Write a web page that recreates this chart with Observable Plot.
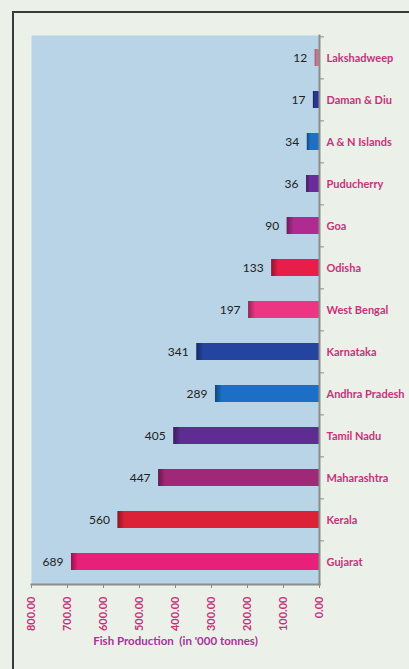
<!DOCTYPE html>
<html>
<head>
<meta charset="utf-8">
<script src="https://cdn.jsdelivr.net/npm/d3@7"></script>
<script src="https://cdn.jsdelivr.net/npm/@observablehq/plot@0.6"></script>
<style>
  html, body { margin:0; padding:0; background:#ebf1e9; width:409px; height:669px; overflow:hidden; }
  #frame { position:absolute; left:12px; top:11px; width:600px; height:900px; border:2px solid #3a3a3a; box-sizing:border-box; }
  #chart { position:absolute; left:0; top:0; }
</style>
</head>
<body>
<div id="frame"></div>
<div id="chart"></div>
<script>
const categories = ["Lakshadweep","Daman & Diu","A & N Islands","Puducherry","Goa","Odisha","West Bengal","Karnataka","Andhra Pradesh","Tamil Nadu","Maharashtra","Kerala","Gujarat"];
const values = [12,17,34,36,90,133,197,341,289,405,447,560,689];
const colors = ["#c9788c","#2a3590","#1f6fc2","#6a2c98","#b02a90","#e61e48","#ee3584","#2444a0","#1c6fc4","#5e2c92","#a02878","#dc2236","#e8207a"];
const xTicks = [0,100,200,300,400,500,600,700,800];
const xLabel = "Fish Production  (in '000 tonnes)";

const data = categories.map((c, i) => ({category: c, value: values[i], color: colors[i]}));

const marginTop = 35, marginBottom = 85, H = 669;
const step = (H - marginTop - marginBottom) / (categories.length - 0.6 + 0.6);

const chart = Plot.plot({
  width: 409, height: H,
  marginLeft: 31, marginRight: 90, marginTop, marginBottom,
  style: {background: "transparent", fontFamily: "Lato, Calibri, 'DejaVu Sans', sans-serif"},
  x: {domain: [0, 800], reverse: true},
  y: {domain: categories, paddingInner: 0.6, paddingOuter: 0.3},
  color: {type: "identity"},
  marks: [
    Plot.frame({fill: "#b8d4e6", stroke: null}),
    Plot.barX(data, {x: "value", y: "category", fill: "color", className: "fishbars"}),
    Plot.text(data, {x: "value", y: "category", text: d => String(d.value), dx: -8, textAnchor: "end", fill: "#222", fontSize: 12}),
    Plot.axisY({anchor: "right", tickSize: 0, tickPadding: 7, fill: "#c8307a", fontWeight: "bold", fontSize: 11, label: null, textAnchor: "start"}),
    Plot.axisY({anchor: "right", text: null, tickSize: 4, dy: -step / 2, stroke: "#8c8c8c", label: null}),
    Plot.frame({anchor: "right", stroke: "#8c8c8c", strokeWidth: 2}),
    Plot.frame({anchor: "bottom", stroke: "#8c8c8c", strokeWidth: 2}),
    Plot.axisX({anchor: "bottom", ticks: xTicks, tickSize: 4, tickPadding: 8, tickRotate: -90, tickFormat: d => d.toFixed(2), fill: "#c8307a", stroke: "#8c8c8c", fontWeight: "bold", fontSize: 11, label: null}),
    Plot.text([xLabel], {frameAnchor: "bottom", dy: 57, lineAnchor: "middle", fill: "#a8329a", fontWeight: "bold", fontSize: 11.5})
  ]
});

// gradients with dark left edge on each bar
const ns = "http://www.w3.org/2000/svg";
const defs = document.createElementNS(ns, "defs");
chart.insertBefore(defs, chart.firstChild);
chart.querySelectorAll(".fishbars rect").forEach((r, i) => {
  const base = colors[i];
  const w = +r.getAttribute("width") || 1;
  const dark = d3.color(base).darker(1.3).formatHex();
  const g = document.createElementNS(ns, "linearGradient");
  g.setAttribute("id", "grad" + i);
  g.setAttribute("x1", "0"); g.setAttribute("x2", "1"); g.setAttribute("y1", "0"); g.setAttribute("y2", "0");
  const off = Math.min(0.3, 7 / w);
  [[0, dark], [off, base], [1, base]].forEach(([o, c]) => {
    const s = document.createElementNS(ns, "stop");
    s.setAttribute("offset", o);
    s.setAttribute("stop-color", c);
    g.appendChild(s);
  });
  defs.appendChild(g);
  r.setAttribute("fill", "url(#grad" + i + ")");
});

document.getElementById("chart").appendChild(chart);
</script>
</body>
</html>
